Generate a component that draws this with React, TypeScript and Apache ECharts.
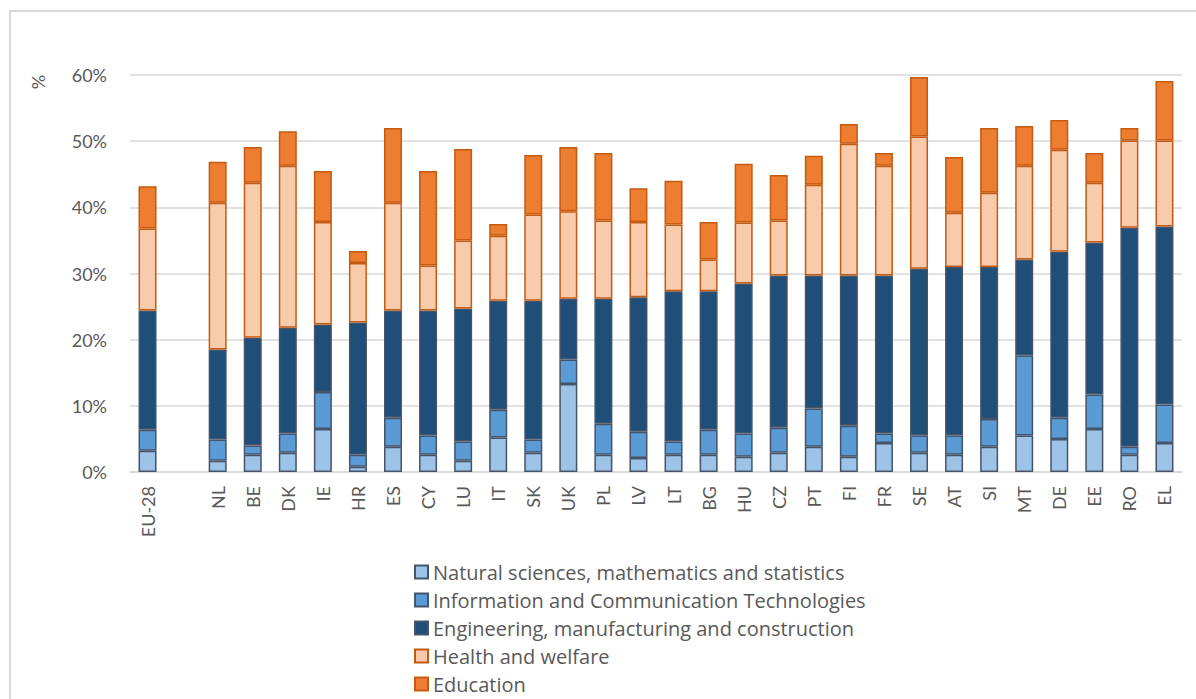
import React, { useEffect, useRef } from "react";
import * as echarts from "echarts";

const categories = ["EU-28", "", "NL", "BE", "DK", "IE", "HR", "ES", "CY", "LU", "IT", "SK", "UK", "PL", "LV", "LT", "BG", "HU", "CZ", "PT", "FI", "FR", "SE", "AT", "SI", "MT", "DE", "EE", "RO", "EL"];

const naturalSciences = [3.2, null, 1.7, 2.6, 2.9, 6.5, 0.8, 3.8, 2.6, 1.7, 5.2, 2.9, 13.3, 2.6, 2.1, 2.6, 2.6, 2.3, 2.9, 3.8, 2.3, 4.4, 2.9, 2.6, 3.8, 5.5, 5.0, 6.5, 2.6, 4.4];
const ict = [3.2, null, 3.2, 1.4, 2.9, 5.6, 1.8, 4.4, 2.9, 2.9, 4.2, 2.0, 3.7, 4.7, 4.0, 2.0, 3.8, 3.5, 3.8, 5.8, 4.7, 1.4, 2.6, 2.9, 4.2, 12.1, 3.2, 5.2, 1.2, 5.8];
const engineering = [18.0, null, 13.6, 16.3, 16.0, 10.2, 20.0, 16.2, 18.9, 20.1, 16.5, 21.0, 9.2, 18.9, 20.3, 22.7, 20.9, 22.7, 23.0, 20.1, 22.7, 23.9, 25.2, 25.5, 23.0, 14.5, 25.1, 23.0, 33.1, 26.9];
const health = [12.4, null, 22.2, 23.4, 24.5, 15.5, 9.0, 16.3, 6.8, 10.3, 9.8, 13.0, 13.2, 11.8, 11.4, 10.1, 4.8, 9.2, 8.3, 13.7, 19.9, 16.6, 20.0, 8.2, 11.2, 14.2, 15.4, 9.0, 13.2, 13.0];
const education = [6.4, null, 6.2, 5.4, 5.2, 7.7, 1.8, 11.3, 14.3, 13.8, 1.8, 9.0, 9.7, 10.2, 5.1, 6.6, 5.7, 8.9, 6.9, 4.4, 3.0, 1.9, 9.0, 8.4, 9.8, 6.0, 4.5, 4.5, 1.9, 9.0];

const seriesNames = [
  "Natural sciences, mathematics and statistics",
  "Information and Communication Technologies",
  "Engineering, manufacturing and construction",
  "Health and welfare",
  "Education",
];
const seriesData = [naturalSciences, ict, engineering, health, education];
const fillColors = ["#9DC3E6", "#5B9BD5", "#1F4E79", "#F8CBAD", "#ED7D31"];
const borderColors = ["#44546A", "#44546A", "#44546A", "#C55A11", "#C55A11"];

const yTicks = [0, 10, 20, 30, 40, 50, 60];

export default function App() {
  const ref = useRef<HTMLDivElement>(null);
  useEffect(() => {
    if (!ref.current) return;
    const chart = echarts.init(ref.current, null, { renderer: "svg" });
    const font = "Lato, 'Noto Sans', sans-serif";
    const legendFont = "'Open Sans', 'Noto Sans', sans-serif";
    chart.setOption({
      animation: false,
      backgroundColor: "#ffffff",
      textStyle: { fontFamily: font },
      grid: { left: 130, right: 14, top: 75, bottom: 227, containLabel: false },
      graphic: [
        {
          type: "rect",
          shape: { x: 10, y: 11, width: 1200, height: 700 },
          style: { fill: "none", stroke: "#D9D9D9", lineWidth: 2 },
        },
        {
          type: "text",
          x: 38,
          y: 82,
          rotation: Math.PI / 2,
          style: { text: "%", fontSize: 18, fill: "#595959", fontFamily: font, align: "center", verticalAlign: "middle" },
        },
      ],
      legend: {
        orient: "vertical",
        left: 409,
        top: 557,
        height: 300,
        icon: "rect",
        itemWidth: 13,
        itemHeight: 13,
        itemGap: 8,
        textStyle: { fontSize: 20, color: "#595959", fontFamily: legendFont },
        data: seriesNames,
      },
      xAxis: {
        type: "category",
        data: categories,
        axisTick: { show: false },
        axisLine: { lineStyle: { color: "#D9D9D9", width: 1.5 } },
        axisLabel: { rotate: 90, interval: 0, fontSize: 18, color: "#595959", margin: 14, fontFamily: font },
      },
      yAxis: {
        type: "value",
        min: yTicks[0],
        max: yTicks[yTicks.length - 1],
        interval: 10,
        axisLine: { show: false },
        axisTick: { show: false },
        splitLine: { lineStyle: { color: "#D9D9D9", width: 1.5 } },
        axisLabel: { formatter: "{value}%", fontSize: 18, color: "#595959", margin: 23, fontFamily: font },
      },
      series: seriesNames.map((name, i) => ({
        name,
        type: "bar",
        stack: "total",
        barWidth: 18,
        data: seriesData[i].map((v) => (v === null ? "-" : v)),
        itemStyle: { color: fillColors[i], borderColor: borderColors[i], borderWidth: 1.5 },
      })),
    });
    return () => chart.dispose();
  }, []);
  return <div ref={ref} style={{ position: "fixed", left: 0, top: 0, width: 1196, height: 699 }} />;
}
